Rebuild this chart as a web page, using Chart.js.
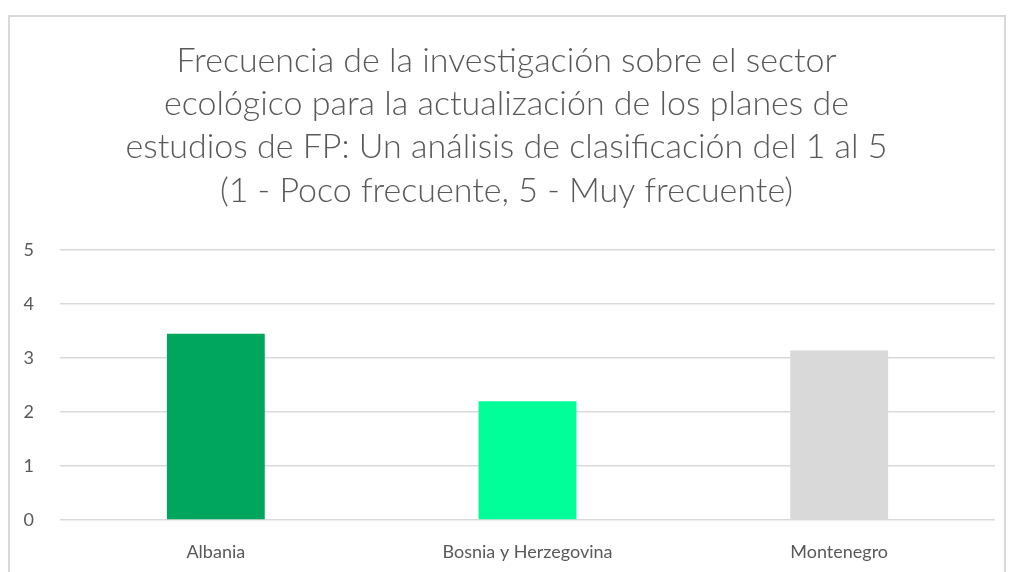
<!DOCTYPE html>
<html>
<head>
<meta charset="utf-8">
<script src="https://cdn.jsdelivr.net/npm/chart.js@4"></script>
<style>
html,body{margin:0;padding:0;background:#fff;}
#wrap{position:absolute;left:0;top:0;width:1011px;height:572px;}
</style>
</head>
<body>
<div id="wrap"><canvas id="c" width="1011" height="572"></canvas></div>
<script>
const categories = ["Albania", "Bosnia y Herzegovina", "Montenegro"];
const values = [3.45, 2.2, 3.14];
const barColors = ["#00A65D", "#00FF99", "#D9D9D9"];
const titleLines = [
  "Frecuencia de la investigación sobre el sector",
  "ecológico para la actualización de los planes de",
  "estudios de FP: Un análisis de clasificación del 1 al 5",
  "(1 - Poco frecuente, 5 - Muy frecuente)"
];
const yTicks = [0, 1, 2, 3, 4, 5];

const frame = {
  id: 'frame',
  beforeDraw(chart) {
    const ctx = chart.ctx;
    ctx.save();
    ctx.fillStyle = '#fff';
    ctx.fillRect(0, 0, chart.width, chart.height);
    ctx.strokeStyle = '#d9d9d9';
    ctx.lineWidth = 2;
    ctx.strokeRect(9, 16, 996, 600);
    ctx.restore();
  }
};

new Chart(document.getElementById('c'), {
  type: 'bar',
  data: {
    labels: categories,
    datasets: [{
      data: values,
      backgroundColor: barColors,
      categoryPercentage: 1,
      barPercentage: 0.314
    }]
  },
  options: {
    responsive: false,
    animation: false,
    layout: { padding: { left: 18, right: 16, top: 0, bottom: 4 } },
    plugins: {
      legend: { display: false },
      tooltip: { enabled: false },
      title: {
        display: true,
        text: titleLines,
        color: '#595959',
        font: { family: 'Lato', size: 34, weight: 300, lineHeight: 1.265 },
        padding: { top: 40, bottom: 38 }
      }
    },
    scales: {
      x: {
        afterFit(scale) { scale.height = 48; },
        grid: { display: false, drawTicks: false },
        border: { display: false },
        ticks: { color: '#595959', font: { family: 'Lato', size: 18 }, padding: 21 }
      },
      y: {
        min: 0, max: 5,
        afterBuildTicks(scale) { scale.ticks = yTicks.map(v => ({ value: v })); },
        afterFit(scale) { scale.width = 42; },
        grid: { color: '#d9d9d9', lineWidth: 1.5, drawTicks: false },
        border: { display: false },
        ticks: { color: '#595959', font: { family: 'Lato', size: 18 }, padding: 26 }
      }
    }
  },
  plugins: [frame]
});
</script>
</body>
</html>
